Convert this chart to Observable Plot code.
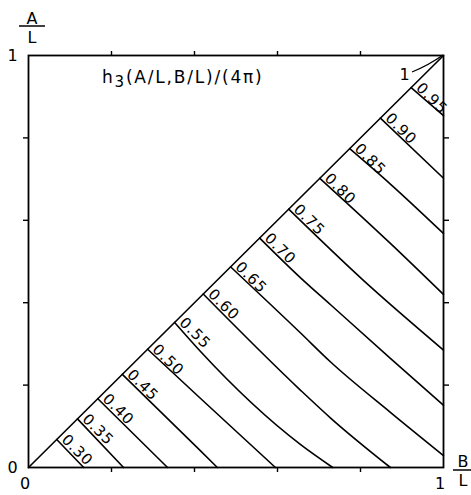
<!DOCTYPE html>
<html><head><meta charset="utf-8">
<script src="https://cdn.jsdelivr.net/npm/d3@7"></script>
<script src="https://cdn.jsdelivr.net/npm/@observablehq/plot@0.6"></script>
<style>html,body{margin:0;padding:0;background:#fff} svg{display:block}</style>
</head><body><div id="chart"></div>
<script>
// contour levels of h3(A/L,B/L)/(4π)
const levels = [0.30, 0.35, 0.40, 0.45, 0.50, 0.55, 0.60, 0.65, 0.70, 0.75, 0.80, 0.85, 0.90, 0.95];
// B/L coordinates of each contour (first point lies on the diagonal A = B)
const contourB = [
  [0.068, 0.133],
  [0.118, 0.229],
  [0.167, 0.335],
  [0.226, 0.414, 0.455],
  [0.287, 0.414, 0.595],
  [0.352, 0.414, 0.655, 0.733],
  [0.421, 0.655, 0.728, 0.872],
  [0.487, 0.655, 0.728, 0.872, 1.000],
  [0.557, 0.655, 0.728, 0.872, 1.000],
  [0.627, 0.805, 1.000],
  [0.702, 0.872, 1.000],
  [0.774, 0.872, 1.000],
  [0.848, 1.000],
  [0.922, 1.000]
];
// A/L coordinates of each contour
const contourA = [
  [0.068, 0],
  [0.118, 0],
  [0.167, 0],
  [0.226, 0.041, 0],
  [0.287, 0.168, 0],
  [0.352, 0.282, 0.056, 0],
  [0.421, 0.188, 0.120, 0],
  [0.487, 0.327, 0.256, 0.134, 0.029],
  [0.557, 0.461, 0.395, 0.265, 0.151],
  [0.627, 0.456, 0.285],
  [0.702, 0.544, 0.420],
  [0.774, 0.688, 0.568],
  [0.848, 0.702],
  [0.922, 0.854]
];
const diagonal = [0, 1];
const cornerLevel = "1";
const minorTicks = [0.2, 0.4, 0.6, 0.8];
const endTicks = [0, 1];
const title = ["h", "3", "(A/L,B/L)/(4π)"];
const xLabel = ["B", "L"];
const yLabel = ["A", "L"];

const FONT = "'DejaVu Sans', sans-serif";

const rows = levels.flatMap((lv, i) => contourB[i].map((b, j) => ({level: lv, b, a: contourA[i][j]})));
const labelRows = levels.map((lv, i) => ({b: contourB[i][0], a: contourA[i][0], t: lv.toFixed(2)}));
const diagRows = diagonal.map(v => ({b: v, a: v}));

function annotations(index, scales, values, dim) {
  const X = scales.x || (v => dim.marginLeft + v * (dim.width - dim.marginLeft - dim.marginRight));
  const Y = scales.y || (v => dim.height - dim.marginBottom - v * (dim.height - dim.marginTop - dim.marginBottom));
  const g = d3.create("svg:g").attr("font-family", FONT).attr("fill", "black");
  // title
  const t = g.append("text").attr("x", X(0) + 74).attr("y", Y(1) + 28)
    .attr("text-anchor", "start").attr("font-size", 17).attr("letter-spacing", "1.8px");
  t.append("tspan").text(title[0]);
  t.append("tspan").attr("dy", 4).attr("font-size", 15).text(title[1]);
  t.append("tspan").attr("dy", -4).text(title[2]);
  // y axis fraction label
  const yl = g.append("g").attr("transform", `translate(${X(0) + 4},${Y(1)})`)
    .attr("font-size", 16).attr("text-anchor", "middle").attr("letter-spacing", "0px");
  yl.append("text").attr("y", -31).text(yLabel[0]);
  yl.append("line").attr("x1", -13).attr("x2", 13).attr("y1", -29).attr("y2", -29)
    .attr("stroke", "black").attr("stroke-width", 1.5);
  yl.append("text").attr("y", -12).text(yLabel[1]);
  // x axis fraction label
  const xl = g.append("g").attr("transform", `translate(${X(1) + 20},${Y(0)})`)
    .attr("font-size", 16).attr("text-anchor", "middle").attr("letter-spacing", "0px");
  xl.append("text").attr("y", 0).text(xLabel[0]);
  xl.append("line").attr("x1", -10).attr("x2", 12).attr("y1", 3).attr("y2", 3)
    .attr("stroke", "black").attr("stroke-width", 1.5);
  xl.append("text").attr("y", 19).text(xLabel[1]);
  // corner label "1" with leader
  const cx = X(1), cy = Y(1);
  g.append("text").attr("x", cx - 38).attr("y", cy + 25).attr("font-size", 16)
    .attr("text-anchor", "middle").text(cornerLevel);
  g.append("path").attr("d", `M${cx - 31},${cy + 17} Q${cx - 14},${cy + 10} ${cx},${cy}`)
    .attr("fill", "none").attr("stroke", "black").attr("stroke-width", 1.3);
  return g.node();
}

const fmt = d => String(d);

const chart = Plot.plot({
  width: 471,
  height: 495,
  marginLeft: 28,
  marginRight: 28,
  marginTop: 55,
  marginBottom: 28,
  x: {domain: [0, 1]},
  y: {domain: [0, 1]},
  style: {fontFamily: FONT, background: "white", color: "black", letterSpacing: "0.9px"},
  marks: [
    Plot.axisX({ticks: minorTicks, anchor: "bottom", tickSize: 5, tickFormat: () => "", label: null, strokeWidth: 1.4}),
    Plot.axisX({ticks: minorTicks, anchor: "top", tickSize: 5, tickFormat: () => "", label: null, strokeWidth: 1.4}),
    Plot.axisY({ticks: minorTicks, anchor: "left", tickSize: 5, tickFormat: () => "", label: null, strokeWidth: 1.4}),
    Plot.axisY({ticks: minorTicks, anchor: "right", tickSize: 5, tickFormat: () => "", label: null, strokeWidth: 1.4}),
    Plot.axisX({ticks: endTicks, anchor: "bottom", tickSize: 0, tickPadding: 10, dx: -3, fontSize: 16, tickFormat: fmt, label: null}),
    Plot.axisY({ticks: endTicks, anchor: "left", tickSize: 0, tickPadding: 10, fontSize: 16, tickFormat: fmt, label: null}),
    Plot.frame({stroke: "black", strokeWidth: 1.8}),
    Plot.line(diagRows, {x: "b", y: "a", stroke: "black", strokeWidth: 1.6}),
    Plot.line(rows, {x: "b", y: "a", z: "level", curve: "monotone-x", stroke: "black", strokeWidth: 1.6}),
    Plot.text(labelRows, {x: "b", y: "a", text: "t", rotate: 45, textAnchor: "start", lineAnchor: "bottom", dx: 4, dy: 1, fontSize: 15, fill: "black"}),
    annotations
  ]
});
document.getElementById("chart").appendChild(chart);
</script>
</body></html>
